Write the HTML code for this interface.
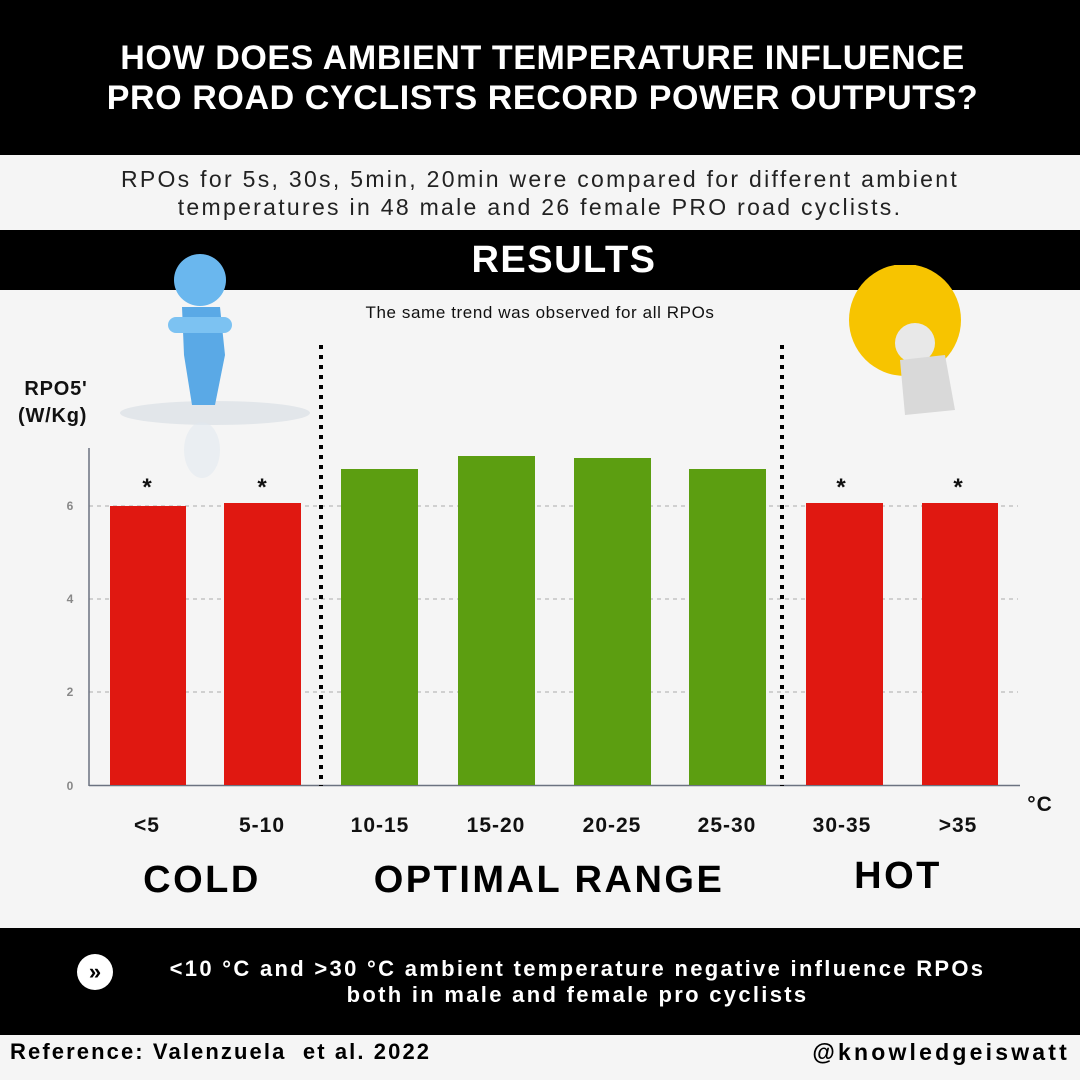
<!DOCTYPE html>
<html><head><meta charset="utf-8"><style>
*{margin:0;padding:0;box-sizing:border-box}
body{width:1080px;height:1080px;background:#f5f5f5;position:relative;overflow:hidden;font-family:"Liberation Sans",sans-serif;font-weight:bold}
.a{position:absolute}
.c{text-align:center}
</style></head><body>
<div class="a" style="left:0;top:0;width:1080px;height:155px;background:#000"></div>
<div class="a c" style="left:0;top:38px;width:1085px;color:#fff;font-size:34px;line-height:40px;letter-spacing:0.6px">HOW DOES AMBIENT TEMPERATURE INFLUENCE<br>PRO ROAD CYCLISTS RECORD POWER OUTPUTS?</div>
<div class="a c" style="left:0;top:165px;width:1080px;color:#222;font-size:23px;font-weight:normal;line-height:28px;letter-spacing:2.3px">RPOs for 5s, 30s, 5min, 20min were compared for different ambient<br>temperatures in 48 male and 26 female PRO road cyclists.</div>
<div class="a" style="left:0;top:230px;width:1080px;height:60px;background:#000"></div>
<div class="a c" style="left:0;top:238px;width:1128px;color:#fff;font-size:38px;line-height:44px;letter-spacing:1.5px">RESULTS</div>
<div class="a c" style="left:0;top:303px;width:1080px;color:#111;font-size:17px;font-weight:normal;letter-spacing:0.6px">The same trend was observed for all RPOs</div>
<!-- icons -->
<svg class="a" style="left:120px;top:245px" width="200" height="250">
<ellipse cx="95" cy="168" rx="95" ry="12" fill="#e2e6ea"/>
<circle cx="80" cy="35" r="26" fill="#6ab7ee"/>
<path d="M62 62 L100 62 L105 110 L95 160 L72 160 L64 110Z" fill="#5aa9e6"/>
<rect x="48" y="72" width="64" height="16" rx="8" fill="#7cc2f2"/>
<ellipse cx="82" cy="205" rx="18" ry="28" fill="#dfe8f0" opacity=".5"/>
</svg>
<svg class="a" style="left:845px;top:265px" width="140" height="160">
<circle cx="60" cy="55" r="56" fill="#f7c400"/>
<circle cx="70" cy="78" r="20" fill="#e8e8e8"/>
<path d="M55 95 L100 90 L110 145 L60 150Z" fill="#d9d9d9"/>
</svg>
<div class="a" style="left:18px;top:376px;font-size:20px;line-height:27px;color:#111;letter-spacing:0.8px">&nbsp;RPO5'<br>(W/Kg)</div>
<!-- chart -->
<svg class="a" style="left:0;top:0" width="1080" height="1080">
<g stroke="#aaa" stroke-dasharray="4,4" stroke-width="1"><line x1="89" y1="506" x2="1018" y2="506"/><line x1="89" y1="599" x2="1018" y2="599"/><line x1="89" y1="692" x2="1018" y2="692"/></g>
<line x1="89" y1="448" x2="89" y2="786" stroke="#6b7280" stroke-width="1.5"/>
<line x1="89" y1="785.5" x2="1020" y2="785.5" stroke="#6b7280" stroke-width="1.5"/>
<g fill="#888" font-size="12" font-family="Liberation Sans" text-anchor="middle"><text x="70" y="510">6</text><text x="70" y="603">4</text><text x="70" y="696">2</text><text x="70" y="790">0</text></g>
<g fill="#e01811"><rect x="110" y="506" width="76" height="279"/><rect x="224" y="503" width="77" height="282"/><rect x="806" y="503" width="77" height="282"/><rect x="922" y="503" width="76" height="282"/></g>
<g fill="#5c9e11"><rect x="341" y="469" width="77" height="316"/><rect x="458" y="456" width="77" height="329"/><rect x="574" y="458" width="77" height="327"/><rect x="689" y="469" width="77" height="316"/></g>
<g stroke="#000" stroke-width="4" stroke-dasharray="4,6"><line x1="321" y1="345" x2="321" y2="786"/><line x1="782" y1="345" x2="782" y2="786"/></g>
<g font-size="24" font-family="Liberation Sans" font-weight="bold" text-anchor="middle" fill="#111"><text x="147" y="495">*</text><text x="262" y="495">*</text><text x="841" y="495">*</text><text x="958" y="495">*</text></g>
<g font-size="21" font-family="Liberation Sans" font-weight="bold" text-anchor="middle" fill="#111" letter-spacing="1"><text x="147" y="832">&lt;5</text><text x="262" y="832">5-10</text><text x="380" y="832">10-15</text><text x="496" y="832">15-20</text><text x="612" y="832">20-25</text><text x="727" y="832">25-30</text><text x="842" y="832">30-35</text><text x="958" y="832">&gt;35</text><text x="1040" y="811">°C</text></g>
<g font-size="38" font-family="Liberation Sans" font-weight="bold" text-anchor="middle" fill="#000" letter-spacing="2.5"><text x="202" y="892">COLD</text><text x="549" y="892">OPTIMAL RANGE</text><text x="898" y="888">HOT</text></g>
</svg>
<div class="a" style="left:0;top:928px;width:1080px;height:107px;background:#000"></div>
<div class="a" style="left:77px;top:954px;width:36px;height:36px;border-radius:50%;background:#fff;color:#000;font-size:22px;text-align:center;line-height:35px">»</div>
<div class="a c" style="left:140px;top:956px;width:875px;color:#fff;font-size:22px;line-height:26px;letter-spacing:2.3px">&lt;10 °C and &gt;30 °C ambient temperature negative influence RPOs<br>both in male and female pro cyclists</div>
<div class="a" style="left:10px;top:1039px;font-size:22px;color:#000;letter-spacing:2.1px">Reference: Valenzuela&nbsp; et al. 2022</div>
<div class="a" style="right:10px;top:1039px;font-size:23px;color:#000;letter-spacing:3.2px">@knowledgeiswatt</div>
</body></html>
